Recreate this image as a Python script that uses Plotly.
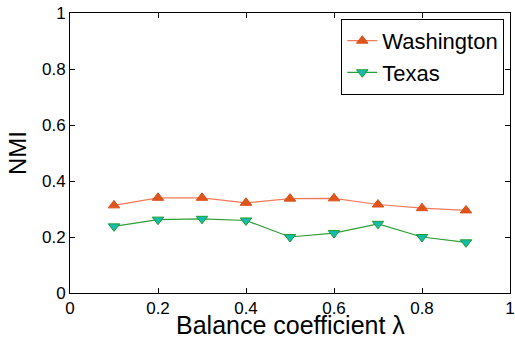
import plotly.graph_objects as go

lam = [0.1, 0.2, 0.3, 0.4, 0.5, 0.6, 0.7, 0.8, 0.9]
washington = [0.313, 0.340, 0.340, 0.322, 0.337, 0.338, 0.316, 0.303, 0.295]
texas = [0.238, 0.262, 0.265, 0.259, 0.200, 0.214, 0.247, 0.200, 0.181]
ticks = [0, 0.2, 0.4, 0.6, 0.8, 1]
tick_text = ["0", "0.2", "0.4", "0.6", "0.8", "1"]

fig = go.Figure()
fig.add_trace(go.Scatter(
    x=lam, y=washington, name="Washington", mode="lines+markers",
    line=dict(color="#F27A58", width=1.2),
    marker=dict(symbol="triangle-up", size=10, color="#E0541A",
                line=dict(color="#D9501A", width=1)),
))
fig.add_trace(go.Scatter(
    x=lam, y=texas, name="Texas", mode="lines+markers",
    line=dict(color="#2E9E3A", width=1.2),
    marker=dict(symbol="triangle-down", size=10, color="#12BDAE",
                line=dict(color="#1E9A30", width=1)),
))

axis_common = dict(
    showgrid=False, zeroline=False, showline=True, linecolor="black",
    linewidth=1, mirror="ticks", ticks="inside", ticklen=5,
    tickcolor="black", automargin=False,
    tickfont=dict(family="Liberation Sans, Arial", size=17, color="black"),
    tickvals=ticks, ticktext=tick_text,
)

fig.update_layout(
    width=515, height=339,
    margin=dict(l=70, r=5, t=13, b=46),
    paper_bgcolor="white", plot_bgcolor="white",
    font=dict(family="Liberation Sans, Arial", color="black"),
    xaxis=dict(range=[0, 1], **axis_common),
    yaxis=dict(range=[0, 1], **axis_common),
    legend=dict(x=0.987, y=0.979, xanchor="right", yanchor="top",
                bgcolor="white", bordercolor="black", borderwidth=1,
                font=dict(size=22), tracegroupgap=0, itemwidth=30),
    showlegend=True,
    annotations=[
        dict(text="Balance coefficient λ", xref="paper", yref="paper",
             x=0.5, y=0, xanchor="center", yanchor="top", yshift=-16,
             showarrow=False, font=dict(size=25)),
        dict(text="NMI", xref="paper", yref="paper", x=0, y=0.5,
             xanchor="center", yanchor="middle", xshift=-53, textangle=-90,
             showarrow=False, font=dict(size=24)),
    ],
)

fig.write_html(
    "out.html",
    config={"displayModeBar": False},
    post_script="document.body.style.margin='0px';document.body.style.overflow='hidden';",
)
